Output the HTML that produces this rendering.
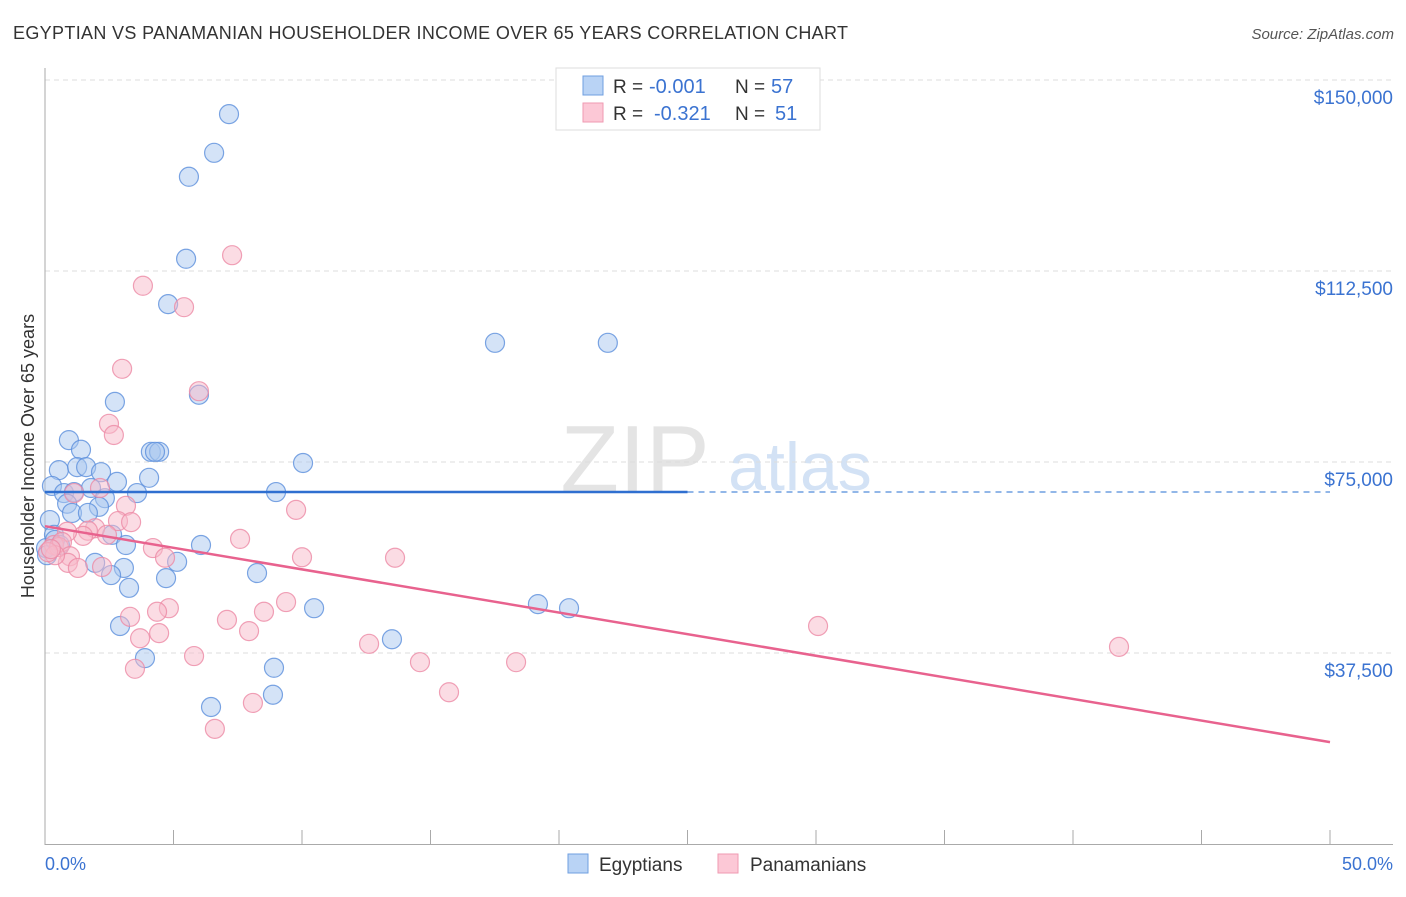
<!DOCTYPE html>
<html><head><meta charset="utf-8"><style>
body{margin:0;background:#fff;font-family:"Liberation Sans",sans-serif}
svg text{font-family:"Liberation Sans",sans-serif}
</style></head><body>
<svg id="chart" width="1406" height="892" xmlns="http://www.w3.org/2000/svg">
<text x="13" y="39" font-size="18" fill="#333" textLength="835" lengthAdjust="spacing">EGYPTIAN VS PANAMANIAN HOUSEHOLDER INCOME OVER 65 YEARS CORRELATION CHART</text>
<text x="1394" y="39" font-size="15" fill="#555" text-anchor="end" font-style="italic">Source: ZipAtlas.com</text>
<text x="635" y="492" font-size="96" fill="#e4e4e4" font-family="Liberation Serif" text-anchor="middle">ZIP</text>
<text x="800" y="490" font-size="68" fill="#d3e2f5" text-anchor="middle">atlas</text>
<g id="grid"></g><g id="axes"></g><g id="pts"></g><g id="lines"></g>
<text transform="translate(34,456) rotate(-90)" font-size="18" fill="#333" text-anchor="middle">Householder Income Over 65 years</text>
<text x="45" y="870" font-size="18" fill="#3b73d1">0.0%</text>
<text x="1393" y="870" font-size="18" fill="#3b73d1" text-anchor="end">50.0%</text>
<g>
<rect x="556" y="68" width="264" height="62" fill="#fff" stroke="#ddd"/>
<rect x="583" y="76" width="20" height="19" fill="#b9d3f5" stroke="#6f9fe0"/>
<rect x="583" y="103" width="20" height="19" fill="#fcc8d6" stroke="#ef9ab2"/>
<text x="613" y="93" font-size="19" fill="#333">R =</text>
<text x="649" y="93" font-size="20" fill="#3b73d1">-0.001</text>
<text x="735" y="93" font-size="19" fill="#333">N =</text>
<text x="771" y="93" font-size="20" fill="#3b73d1">57</text>
<text x="613" y="120" font-size="19" fill="#333">R =</text>
<text x="654" y="120" font-size="20" fill="#3b73d1">-0.321</text>
<text x="735" y="120" font-size="19" fill="#333">N =</text>
<text x="775" y="120" font-size="20" fill="#3b73d1">51</text>
</g>
<g>
<rect x="568" y="854" width="20" height="19" fill="#b9d3f5" stroke="#6f9fe0"/>
<text x="599" y="871" font-size="19" fill="#333">Egyptians</text>
<rect x="718" y="854" width="20" height="19" fill="#fcc8d6" stroke="#ef9ab2"/>
<text x="750" y="871" font-size="19" fill="#333">Panamanians</text>
</g>
</svg>
<script>
const yTicks=[37500,75000,112500,150000];
const yTickLabels=["$37,500","$75,000","$112,500","$150,000"];
const xTicks=[0,5,10,15,20,25,30,35,40,45,50];
const egyX=[7.16,6.58,5.60,5.49,4.79,17.51,21.90,5.99,2.72,0.93,1.40,4.12,4.44,4.28,0.54,1.25,1.60,2.18,2.80,4.05,10.04,0.27,0.74,1.13,3.58,8.99,1.79,2.33,0.86,2.10,1.05,1.67,0.19,0.35,2.61,3.15,6.07,1.95,3.07,5.14,2.57,4.71,8.25,3.27,10.47,19.18,20.39,2.92,3.89,13.50,8.91,8.87,6.46,0.04,0.08,0.39,0.58];
const egyY=[143.3,135.7,131.0,114.9,106.0,98.4,98.4,88.2,86.8,79.3,77.4,77.0,77.0,77.0,73.4,74.0,74.0,73.0,71.1,71.9,74.8,70.3,68.9,69.1,68.9,69.1,69.9,67.9,66.8,66.2,65.0,65.0,63.6,60.7,60.7,58.7,58.7,55.2,54.2,55.4,52.8,52.2,53.2,50.3,46.3,47.1,46.3,42.8,36.5,40.2,34.6,29.3,26.9,58.1,56.7,59.7,58.7];
const panX=[7.28,3.81,5.41,3.00,5.99,2.49,2.68,1.13,2.14,9.77,3.15,2.84,3.35,1.95,1.67,1.48,0.86,2.41,0.35,0.54,0.66,7.59,4.20,4.67,10.0,13.62,0.97,0.89,1.28,2.22,0.39,0.12,0.23,4.82,4.36,3.31,4.44,7.08,8.52,9.38,7.94,3.70,3.50,5.80,12.61,14.59,18.33,30.08,41.79,15.72,8.09,6.61];
const panY=[115.6,109.6,105.4,93.3,88.9,82.5,80.3,68.9,69.9,65.6,66.4,63.4,63.2,62.0,61.5,60.5,61.3,60.7,58.7,58.3,59.3,59.9,58.1,56.2,56.3,56.2,56.5,55.2,54.2,54.4,56.7,57.3,57.9,46.3,45.6,44.6,41.4,44.0,45.6,47.5,41.8,40.4,34.4,36.9,39.3,35.7,35.7,42.8,38.7,29.8,27.7,22.6];
const egyTrend=[69.1,69.1];
const panTrend=[62.4,20.0];
const NS="http://www.w3.org/2000/svg";
const X=v=>45+v/50*1285;
const Y=v=>844-v/150000*764;
function mk(t,a,p){const e=document.createElementNS(NS,t);for(const k in a)e.setAttribute(k,a[k]);document.getElementById(p).appendChild(e);return e;}
yTicks.forEach((t,i)=>{
 const g=mk('line',{x1:45,x2:1393,y1:Y(t),y2:Y(t),stroke:'#ddd','stroke-dasharray':'5,4'},'grid');
 
 
 const l=mk('text',{x:1393,y:Y(t)+24,'font-size':19,fill:'#3b73d1','text-anchor':'end'},'grid');
 l.textContent=yTickLabels[i];
 
 
});
const ax=mk('line',{x1:45,x2:45,y1:68,y2:845,stroke:'#aaa'},'axes');


const bx=mk('line',{x1:45,x2:1393,y1:844.5,y2:844.5,stroke:'#aaa'},'axes');


xTicks.forEach(t=>{
 const k=mk('line',{x1:X(t),x2:X(t),y1:830,y2:845,stroke:'#aaa'},'axes');
 
 
});
function pts(xs,ys,fill,stroke,name){
 xs.forEach((x,i)=>{
  const c=mk('circle',{cx:X(x),cy:Y(ys[i]*1000),r:9.5,fill:fill,'fill-opacity':0.5,stroke:stroke,'stroke-opacity':0.8,'stroke-width':1.2},'pts');
  
  
 });
}
pts(egyX,egyY,'#a9c8f0','#5b8fdc','egyptian-point');
pts(panX,panY,'#f7b9ca','#ec8aa5','panamanian-point');
const e1=mk('line',{x1:X(0),x2:X(25),y1:Y(egyTrend[0]*1000),y2:Y(egyTrend[0]*1000+(egyTrend[1]-egyTrend[0])*500),stroke:'#2f6fd0','stroke-width':2.5},'lines');


const e2=mk('line',{x1:X(25),x2:X(50),y1:Y(egyTrend[0]*1000),y2:Y(egyTrend[1]*1000),stroke:'#6f9fe0','stroke-width':1.5,'stroke-dasharray':'6,5'},'lines');


const p1=mk('line',{x1:X(0),x2:X(50),y1:Y(panTrend[0]*1000),y2:Y(panTrend[1]*1000),stroke:'#e8628e','stroke-width':2.5},'lines');


</script>
</body></html>
